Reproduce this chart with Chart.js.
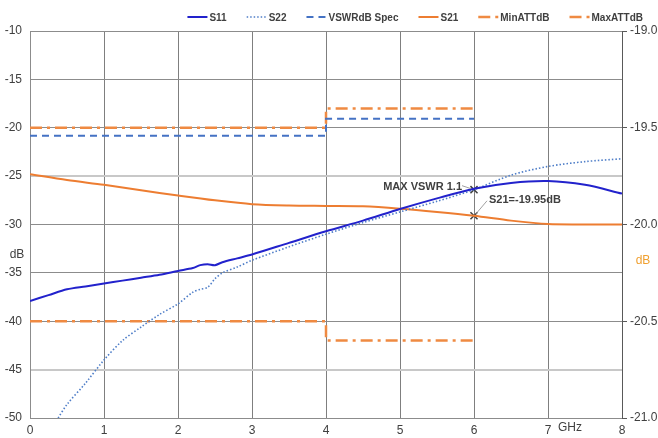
<!DOCTYPE html>
<html>
<head>
<meta charset="utf-8">
<script src="https://cdn.jsdelivr.net/npm/chart.js@4.4.0/dist/chart.umd.min.js"></script>
<style>
    body { margin: 0; background: #fff; }
    #wrap { width: 658px; height: 438px; position: relative; }
</style>
</head>
<body>
<div id="wrap"><canvas id="lineChart"></canvas></div>
<script>
// frequency points (GHz) and values
const s11Freq = [0, 0.25, 0.5, 0.75, 1, 1.25, 1.5, 1.75, 2, 2.2, 2.3, 2.4, 2.5, 2.6, 2.8, 3, 3.5, 4, 4.5, 5, 5.5, 6, 6.5, 7, 7.5, 8];
const s11Vals = [-37.9, -37.3, -36.7, -36.4, -36.1, -35.8, -35.5, -35.2, -34.8, -34.5, -34.2, -34.1, -34.2, -33.9, -33.5, -33.1, -31.9, -30.7, -29.6, -28.4, -27.3, -26.3, -25.7, -25.5, -25.9, -26.8];

const s22Freq = [0.38, 0.5, 0.75, 1, 1.25, 1.5, 1.75, 2, 2.2, 2.3, 2.4, 2.5, 2.6, 2.8, 3, 3.5, 4, 4.5, 5, 5.5, 6, 6.5, 7, 7.5, 8];
const s22Vals = [-50.0, -48.6, -46.4, -44.0, -42.0, -40.6, -39.3, -38.2, -37.0, -36.7, -36.5, -35.6, -35.0, -34.4, -33.7, -32.3, -31.0, -29.8, -28.7, -27.6, -26.4, -24.9, -24.0, -23.5, -23.2];

const s21Freq = [0, 0.5, 1, 1.5, 2, 2.5, 3, 3.5, 4, 4.5, 5, 5.5, 6, 6.5, 7, 7.5, 8];
const s21Vals = [-19.74, -19.77, -19.795, -19.823, -19.85, -19.875, -19.895, -19.902, -19.904, -19.906, -19.918, -19.935, -19.955, -19.98, -19.998, -20.0, -20.0];

const specFreq = [0, 4, 4, 6];
const vswrSpec = [-20.83, -20.83, -19.08, -19.08];
const maxAtt = [-19.5, -19.5, -19.4, -19.4];
const minAtt = [-20.5, -20.5, -20.6, -20.6];

const markFreq = [6];
const vswrMark = [-26.4];
const s21Mark = [-19.955];

const xTicks = [0, 1, 2, 3, 4, 5, 6, 7, 8];
const dbTicks = [-10, -15, -20, -25, -30, -35, -40, -45, -50];
const attTicks = [-19.0, -19.5, -20.0, -20.5, -21.0];

function pts(xs, ys) {
    return xs.map((x, i) => ({ x: x, y: ys[i] }));
}

const FONT = 'Liberation Sans, Arial, sans-serif';
const TXT = '#404040';

const datasets = [
    { label: 'S11', data: pts(s11Freq, s11Vals), yAxisID: 'y', borderColor: '#2222cc', borderWidth: 2, tension: 0.3 },
    { label: 'S22', data: pts(s22Freq, s22Vals), yAxisID: 'y', borderColor: '#4f7ec8', borderWidth: 1.6, borderDash: [1.5, 2], tension: 0.3 },
    { label: 'VSWRdB Spec', data: pts(specFreq, vswrSpec), yAxisID: 'y', borderColor: '#4472c4', borderWidth: 2, borderDash: [7, 5] },
    { label: 'S21', data: pts(s21Freq, s21Vals), yAxisID: 'y2', borderColor: '#ed7d31', borderWidth: 2, tension: 0.3 },
    { label: 'MinATTdB', data: pts(specFreq, minAtt), yAxisID: 'y2', borderColor: '#ef8a42', borderWidth: 2.5, borderDash: [12, 5, 3, 5] },
    { label: 'MaxATTdB', data: pts(specFreq, maxAtt), yAxisID: 'y2', borderColor: '#ef8a42', borderWidth: 2.5, borderDash: [12, 5, 3, 5] },
    { label: 'mark1', data: pts(markFreq, vswrMark), yAxisID: 'y', showLine: false, pointStyle: 'crossRot', pointRadius: 5, borderColor: '#404040', borderWidth: 1.5, noLegend: true },
    { label: 'mark2', data: pts(markFreq, s21Mark), yAxisID: 'y2', showLine: false, pointStyle: 'crossRot', pointRadius: 5, borderColor: '#404040', borderWidth: 1.5, noLegend: true }
];
datasets.forEach(d => {
    if (d.pointRadius === undefined) d.pointRadius = 0;
    d.fill = false;
});

// legend, axis titles and callouts
const extras = {
    id: 'extras',
    afterDraw(chart) {
        const ctx = chart.ctx;
        ctx.save();

        // legend, right aligned at the top
        ctx.font = 'bold 10px ' + FONT;
        ctx.textBaseline = 'middle';
        const items = chart.data.datasets.filter(d => !d.noLegend);
        const lineW = 20, gap = 2, spacing = 20;
        let total = 0;
        items.forEach((d, i) => {
            total += lineW + gap + ctx.measureText(d.label).width + (i < items.length - 1 ? spacing : 0);
        });
        let x = 643 - total;
        const ly = 17;
        items.forEach(d => {
            ctx.strokeStyle = d.borderColor;
            ctx.lineWidth = d.borderWidth;
            ctx.setLineDash(d.borderDash || []);
            ctx.beginPath();
            ctx.moveTo(x, ly);
            ctx.lineTo(x + lineW, ly);
            ctx.stroke();
            ctx.setLineDash([]);
            ctx.fillStyle = TXT;
            ctx.textAlign = 'left';
            ctx.fillText(d.label, x + lineW + gap, ly + 1);
            x += lineW + gap + ctx.measureText(d.label).width + spacing;
        });

        // axis titles
        ctx.font = '12px ' + FONT;
        ctx.textAlign = 'center';
        ctx.fillStyle = TXT;
        ctx.fillText('dB', 17, 255);
        ctx.fillText('GHz', 570, 428);
        ctx.fillStyle = '#f0a030';
        ctx.fillText('dB', 643, 261);

        // callouts
        const xs = chart.scales.x, ys = chart.scales.y, ys2 = chart.scales.y2;
        const m1x = xs.getPixelForValue(markFreq[0]), m1y = ys.getPixelForValue(vswrMark[0]);
        const m2x = xs.getPixelForValue(markFreq[0]), m2y = ys2.getPixelForValue(s21Mark[0]);
        ctx.strokeStyle = '#a0a0a0';
        ctx.lineWidth = 1;
        ctx.beginPath();
        ctx.moveTo(m1x - 12, m1y - 4);
        ctx.lineTo(m1x - 3, m1y - 1);
        ctx.moveTo(m2x + 13, m2y - 15);
        ctx.lineTo(m2x + 2, m2y - 2);
        ctx.stroke();
        ctx.font = 'bold 11px ' + FONT;
        ctx.fillStyle = TXT;
        ctx.textAlign = 'right';
        ctx.fillText('MAX VSWR 1.1', m1x - 12, m1y - 3);
        ctx.textAlign = 'left';
        ctx.fillText('S21=-19.95dB', m2x + 15, m2y - 16);
        ctx.restore();
    }
};

const ctx = document.getElementById('lineChart').getContext('2d');
new Chart(ctx, {
    type: 'line',
    data: { datasets: datasets },
    options: {
        responsive: true,
        maintainAspectRatio: false,
        animation: false,
        layout: { padding: { top: 31, left: 0, right: 0, bottom: 0 } },
        plugins: { legend: { display: false }, tooltip: { enabled: false } },
        scales: {
            x: {
                type: 'linear', min: 0, max: 8,
                afterBuildTicks: s => { s.ticks = xTicks.map(v => ({ value: v })); },
                afterFit: s => { s.height = 20; },
                grid: { color: '#7f7f7f', drawTicks: false },
                border: { color: '#8c8c8c' },
                ticks: { color: TXT, font: { family: FONT, size: 12 }, padding: 5 }
            },
            y: {
                position: 'left', min: -50, max: -10,
                afterBuildTicks: s => { s.ticks = dbTicks.map(v => ({ value: v })); },
                afterFit: s => { s.width = 30; },
                grid: {
                    drawTicks: false,
                    color: c => (c.tick && (c.tick.value === -25 || c.tick.value === -45)) ? '#c8c8c8' : '#8c8c8c',
                    lineWidth: c => (c.tick && (c.tick.value === -25 || c.tick.value === -45)) ? 2 : 1
                },
                border: { color: '#8c8c8c' },
                ticks: { color: TXT, font: { family: FONT, size: 12 }, padding: 8 }
            },
            y2: {
                position: 'right', min: -21, max: -19,
                afterBuildTicks: s => { s.ticks = attTicks.map(v => ({ value: v })); },
                afterFit: s => { s.width = 36; },
                grid: { drawOnChartArea: false, color: '#595959', tickLength: 5 },
                border: { color: '#595959' },
                ticks: { color: TXT, font: { family: FONT, size: 12 }, padding: 3, callback: v => v.toFixed(1) }
            }
        }
    },
    plugins: [extras]
});
</script>
</body>
</html>
